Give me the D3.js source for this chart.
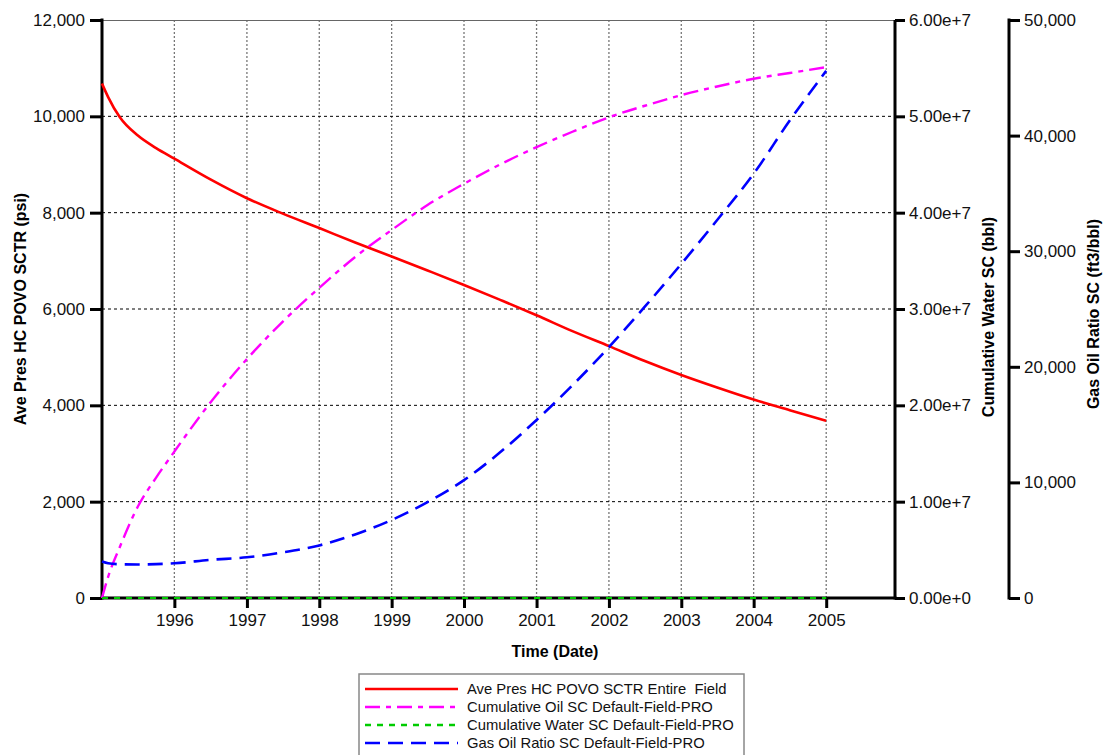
<!DOCTYPE html>
<html>
<head>
<meta charset="utf-8">
<script src="https://cdn.jsdelivr.net/npm/d3@7/dist/d3.min.js"></script>
<style>
  html, body { margin: 0; padding: 0; background: #fff; }
  svg { display: block; font-family: "Liberation Sans", Arial, sans-serif; }
</style>
</head>
<body>
<svg id="chart" width="1109" height="755"></svg>
<script>
// Sample dates for all series
const dates = [
  "1995-01-01", "1995-02-01", "1995-04-01", "1995-07-01", "1995-10-01",
  "1996-01-01", "1996-07-01", "1997-01-01", "1997-07-01", "1998-01-01",
  "1998-07-01", "1999-01-01", "1999-07-01", "2000-01-01", "2000-07-01",
  "2001-01-01", "2001-07-01", "2002-01-01", "2002-07-01", "2003-01-01",
  "2003-07-01", "2004-01-01", "2004-07-01", "2005-01-01"
];

// Average reservoir pressure (psi)
const avePressure = [
  10680, 10400, 9980, 9600, 9340,
  9120, 8690, 8300, 7980, 7680,
  7380, 7090, 6800, 6500, 6190,
  5870, 5540, 5230, 4920, 4630,
  4370, 4120, 3900, 3680
];

// Cumulative oil (bbl)
const cumOil = [
  0, 2.2e6, 5.3e6, 9.5e6, 1.25e7,
  1.52e7, 2.03e7, 2.48e7, 2.87e7, 3.22e7,
  3.54e7, 3.82e7, 4.08e7, 4.30e7, 4.50e7,
  4.68e7, 4.84e7, 4.99e7, 5.11e7, 5.22e7,
  5.31e7, 5.39e7, 5.45e7, 5.51e7
];

// Cumulative water (bbl)
const cumWater = [
  0, 0, 0, 0, 0,
  0, 0, 0, 0, 0,
  0, 0, 0, 0, 0,
  0, 0, 0, 0, 0,
  0, 0, 0, 0
];

// Gas oil ratio (ft3/bbl)
const gasOilRatio = [
  3150, 3000, 2920, 2900, 2930,
  3000, 3300, 3520, 3950, 4550,
  5500, 6750, 8300, 10200, 12600,
  15400, 18400, 21700, 25200, 28900,
  32700, 36700, 41300, 45600
];

// Axis ticks
const yearTicks = ["1996", "1997", "1998", "1999", "2000", "2001", "2002", "2003", "2004", "2005"];
const pressureTicks = [0, 2000, 4000, 6000, 8000, 10000, 12000];
const volumeTicks = [0, 1e7, 2e7, 3e7, 4e7, 5e7, 6e7];
const gorTicks = [0, 10000, 20000, 30000, 40000, 50000];

const legendLabels = [
  "Ave Pres HC POVO SCTR Entire  Field",
  "Cumulative Oil SC Default-Field-PRO",
  "Cumulative Water SC Default-Field-PRO",
  "Gas Oil Ratio SC Default-Field-PRO"
];

(function draw() {
  const parse = d3.timeParse("%Y-%m-%d");
  const parsedDates = dates.map(parse);

  const svg = d3.select("#chart");
  const pLeft = 102, pRight = 895, pTop = 20, pBottom = 598;
  const axis3X = 1009;

  const x = d3.scaleTime()
    .domain([parse("1995-01-01"), parse("2005-12-14")])
    .range([pLeft, pRight]);
  const yP = d3.scaleLinear().domain([0, 12000]).range([pBottom, pTop]);
  const yV = d3.scaleLinear().domain([0, 6e7]).range([pBottom, pTop]);
  const yG = d3.scaleLinear().domain([0, 50000]).range([pBottom, pTop]);

  const yearDates = yearTicks.map(y => d3.timeParse("%Y")(y));

  // Grid
  const grid = svg.append("g");
  grid.selectAll("line.vg").data(yearDates).enter().append("line")
    .attr("x1", d => x(d)).attr("x2", d => x(d))
    .attr("y1", pTop).attr("y2", pBottom)
    .attr("stroke", "#777").attr("stroke-width", 1.3)
    .attr("stroke-dasharray", "2,2");
  grid.selectAll("line.hg").data(pressureTicks.filter(v => v > 0 && v < 12000)).enter().append("line")
    .attr("x1", pLeft).attr("x2", pRight)
    .attr("y1", d => yP(d)).attr("y2", d => yP(d))
    .attr("stroke", "#000").attr("stroke-width", 1)
    .attr("stroke-dasharray", "3,3");

  // Top border
  svg.append("line")
    .attr("x1", pLeft).attr("x2", pRight).attr("y1", pTop + 0.5).attr("y2", pTop + 0.5)
    .attr("stroke", "#666").attr("stroke-width", 1.2);

  function styleAxis(g) {
    g.select(".domain").remove();
    g.selectAll(".tick line").attr("stroke", "#000").attr("stroke-width", 3);
    g.selectAll(".tick text").attr("fill", "#111")
      .style("font-size", "17px")
      .style("font-family", "'Liberation Sans', Arial, sans-serif");
  }

  // Bottom axis
  svg.append("g")
    .attr("transform", `translate(0,${pBottom})`)
    .call(d3.axisBottom(x).tickValues(yearDates).tickFormat(d3.timeFormat("%Y"))
      .tickSize(10).tickSizeOuter(0).tickPadding(6))
    .call(styleAxis);

  // Left axis
  svg.append("g")
    .attr("transform", `translate(${pLeft},0)`)
    .call(d3.axisLeft(yP).tickValues(pressureTicks).tickFormat(d3.format(","))
      .tickSize(12).tickSizeOuter(0).tickPadding(5))
    .call(styleAxis);

  // Right axis (volume)
  svg.append("g")
    .attr("transform", `translate(${pRight},0)`)
    .call(d3.axisRight(yV).tickValues(volumeTicks).tickFormat(d3.format(".2e"))
      .tickSize(10).tickSizeOuter(0).tickPadding(4))
    .call(styleAxis);

  // Far right axis (gas oil ratio)
  svg.append("g")
    .attr("transform", `translate(${axis3X},0)`)
    .call(d3.axisRight(yG).tickValues(gorTicks).tickFormat(d3.format(","))
      .tickSize(11).tickSizeOuter(0).tickPadding(4))
    .call(styleAxis);

  // Axis lines
  const axisLines = [
    [pLeft, pTop - 1.5, pLeft, pBottom + 1.5],
    [pLeft - 1.5, pBottom, pRight + 1.5, pBottom],
    [pRight, pTop, pRight, pBottom + 1.5],
    [axis3X, pTop - 1.5, axis3X, pBottom + 1.5]
  ];
  svg.append("g").selectAll("line").data(axisLines).enter().append("line")
    .attr("x1", d => d[0]).attr("y1", d => d[1])
    .attr("x2", d => d[2]).attr("y2", d => d[3])
    .attr("stroke", "#000").attr("stroke-width", 3);

  // Series
  const series = [
    { values: avePressure, y: yP, color: "#ff0000", dash: null, width: 2.6 },
    { values: cumOil, y: yV, color: "#ff00ff", dash: "15,6,5,6", width: 2.4 },
    { values: cumWater, y: yV, color: "#00cc00", dash: "6,6", width: 2 },
    { values: gasOilRatio, y: yG, color: "#0000ff", dash: "15,8", width: 2.6 }
  ];

  const plot = svg.append("g");
  series.forEach(s => {
    const line = d3.line()
      .x((d, i) => x(parsedDates[i]))
      .y(d => s.y(d))
      .curve(d3.curveMonotoneX);
    plot.append("path")
      .datum(s.values)
      .attr("d", line)
      .attr("fill", "none")
      .attr("stroke", s.color)
      .attr("stroke-width", s.width)
      .attr("stroke-dasharray", s.dash);
  });

  // Axis titles
  const titleStyle = sel => sel
    .attr("text-anchor", "middle")
    .attr("dominant-baseline", "central")
    .style("font-size", "16px")
    .style("font-weight", "bold")
    .attr("fill", "#000");

  svg.append("text").attr("transform", "translate(20,309) rotate(-90)")
    .text("Ave Pres HC POVO SCTR (psi)").call(titleStyle);
  svg.append("text").attr("transform", "translate(988,317) rotate(-90)")
    .text("Cumulative Water SC (bbl)").call(titleStyle);
  svg.append("text").attr("transform", "translate(1093,314) rotate(-90)")
    .text("Gas Oil Ratio SC (ft3/bbl)").call(titleStyle);
  svg.append("text").attr("x", 555).attr("y", 651)
    .text("Time (Date)").call(titleStyle);

  // Legend
  const legend = svg.append("g");
  legend.append("rect")
    .attr("x", 359).attr("y", 674).attr("width", 385).attr("height", 90)
    .attr("fill", "#fff").attr("stroke", "#888").attr("stroke-width", 1.5);
  const rowY = [689, 707, 725, 743];
  series.forEach((s, i) => {
    legend.append("line")
      .attr("x1", 365).attr("x2", 458)
      .attr("y1", rowY[i]).attr("y2", rowY[i])
      .attr("stroke", s.color).attr("stroke-width", 2.6)
      .attr("stroke-dasharray", s.dash);
    legend.append("text")
      .attr("x", 467).attr("y", rowY[i])
      .attr("dominant-baseline", "central")
      .style("font-size", "14.8px")
      .style("white-space", "pre")
      .attr("fill", "#111")
      .text(legendLabels[i]);
  });
})();
</script>
</body>
</html>
